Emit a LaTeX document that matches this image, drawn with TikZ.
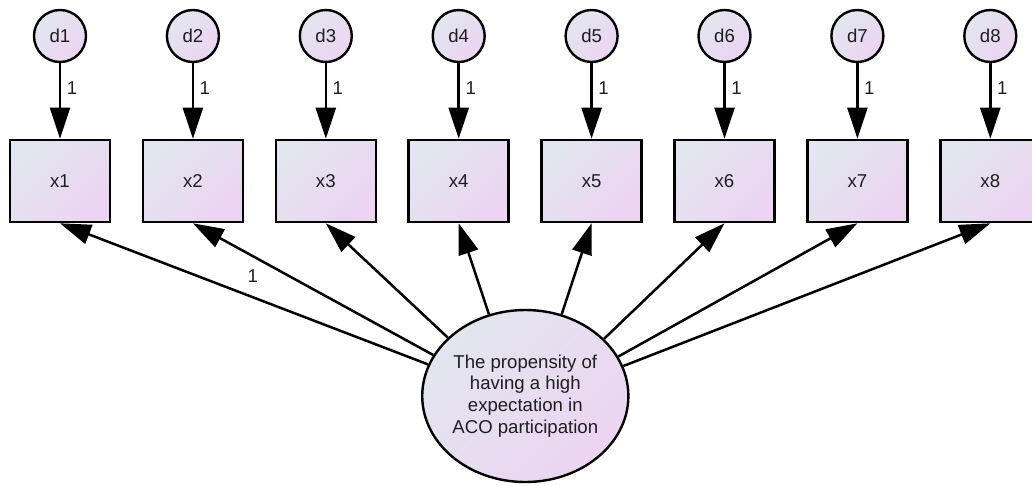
\documentclass[tikz,border=0pt]{standalone}
\usepackage{fontspec}
\setmainfont{Liberation Sans}
\usetikzlibrary{shapes.geometric,arrows.meta}
\definecolor{fillA}{RGB}{226,230,238}
\definecolor{fillB}{RGB}{236,212,242}
\definecolor{txt}{RGB}{30,30,30}
\begin{document}
\begin{tikzpicture}[x=1pt,y=-1pt,
  shadefill/.style={top color=fillA, bottom color=fillB, shading angle=45},
  lblfont/.style={font=\fontsize{18.6}{21.7}\selectfont, text=txt},
  obs/.style={draw, line width=2.6pt, shadefill, minimum width=100pt, minimum height=82pt, inner sep=0pt, lblfont},
  err/.style={draw, circle, line width=2.4pt, shadefill, minimum size=52pt, inner sep=0pt, lblfont},
  lat/.style={draw, ellipse, line width=2.4pt, shadefill, minimum width=194pt, minimum height=172pt, inner sep=0pt, align=center, lblfont},
  arr/.style={-{Triangle[length=31pt,width=20pt]}, line width=2.5pt},
  lbl/.style={lblfont, inner sep=0pt}]
\useasboundingbox (0,0) rectangle (1032,485);
\foreach \i in {1,...,8} {
  \pgfmathsetmacro\xx{60+132.9*(\i-1)}
  \node[obs] (x\i) at (\xx,181) {x\i};
  \node[err] (d\i) at (\xx,36) {d\i};
  \draw[arr] (d\i) -- node[lbl,pos=0.33,xshift=12pt]{1} (x\i);
}
\node[lat] (e) at (525.3,396) {The propensity of\\having a high\\expectation in\\ACO participation};
\draw[arr] (e.162.8) -- node[lbl,pos=0.476,yshift=21pt]{1} (x1.south);
\draw[arr] (e.156.7) -- (x2.south);
\draw[arr] (e.143.2) -- (x3.south);
\draw[arr] (e.114) -- (x4.south);
\draw[arr] (e.66) -- (x5.south);
\draw[arr] (e.36.8) -- (x6.south);
\draw[arr] (e.23.3) -- (x7.south);
\draw[arr] (e.17.2) -- (x8.south);
\end{tikzpicture}
\end{document}
